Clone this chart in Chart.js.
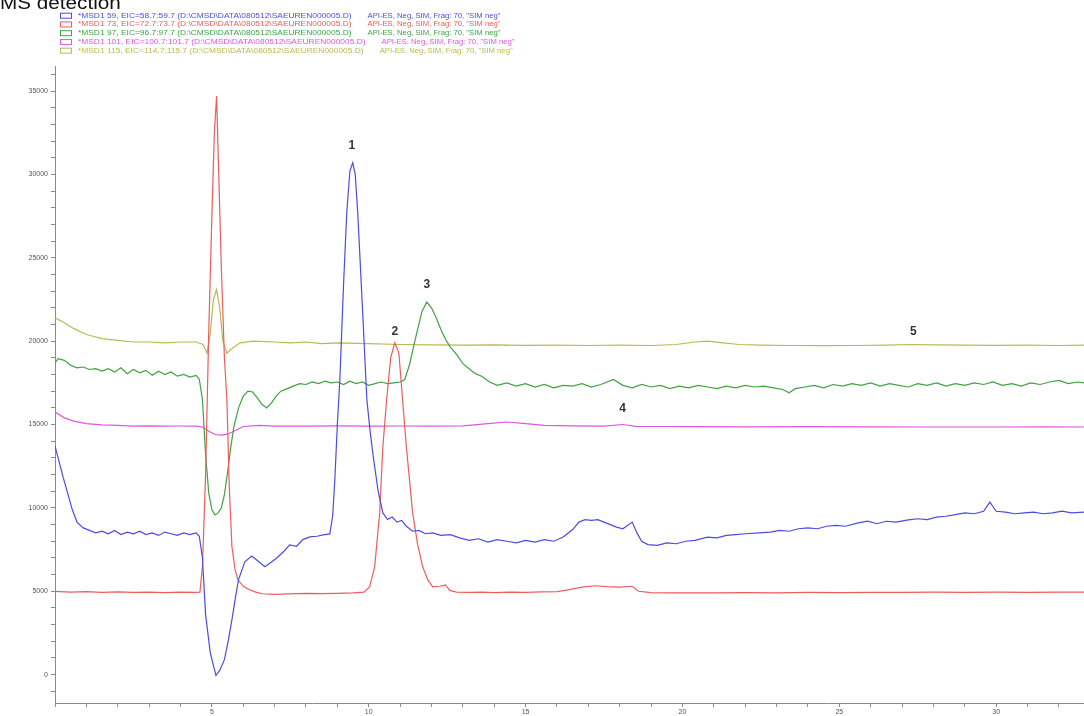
<!DOCTYPE html>
<html>
<head>
<meta charset="utf-8">
<title>MS detection</title>
<script src="https://cdn.jsdelivr.net/npm/chart.js@4.4.1/dist/chart.umd.min.js"></script>
<style>
  html, body { margin: 0; padding: 0; background: #fff; }
  #wrap { width: 1084px; height: 716px; position: relative; }
</style>
</head>
<body>
<div id="wrap"><canvas id="msChart"></canvas></div>
<script>
// retention time (min) and intensity for each extracted ion trace
const chartTitle = "MS detection";

const legendNames = [
    "*MSD1 59, EIC=58.7:59.7 (D:\\CMSD\\DATA\\080512\\SAEUREN000005.D)",
    "*MSD1 73, EIC=72.7:73.7 (D:\\CMSD\\DATA\\080512\\SAEUREN000005.D)",
    "*MSD1 97, EIC=96.7:97.7 (D:\\CMSD\\DATA\\080512\\SAEUREN000005.D)",
    "*MSD1 101, EIC=100.7:101.7 (D:\\CMSD\\DATA\\080512\\SAEUREN000005.D)",
    "*MSD1 115, EIC=114.7:115.7 (D:\\CMSD\\DATA\\080512\\SAEUREN000005.D)"
];
const legendMode = 'API-ES, Neg, SIM, Frag: 70, "SIM neg"';

const t59 = [
    0, 0.1, 0.25, 0.4, 0.55, 0.7, 0.9, 1.1, 1.3, 1.5,
    1.7, 1.9, 2.1, 2.3, 2.5, 2.7, 2.9, 3.1, 3.3, 3.5,
    3.7, 3.9, 4.1, 4.3, 4.5, 4.6, 4.7, 4.8, 4.95, 5.13,
    5.25, 5.4, 5.52, 5.64, 5.75, 5.85, 6.05, 6.27, 6.45, 6.69,
    6.9, 7.07, 7.3, 7.48, 7.7, 7.9, 8.12, 8.35, 8.55, 8.76,
    8.85, 8.92, 9.0, 9.08, 9.2, 9.3, 9.4, 9.49, 9.57, 9.65,
    9.8, 9.94, 10.05, 10.15, 10.3, 10.45, 10.6, 10.75, 10.9, 11.05,
    11.2, 11.4, 11.6, 11.8, 12.04, 12.3, 12.6, 12.9, 13.2, 13.5,
    13.8, 14.1, 14.4, 14.7, 15.0, 15.3, 15.6, 15.9, 16.2, 16.5,
    16.7, 16.9, 17.1, 17.3, 17.5, 17.7, 17.9, 18.1, 18.4, 18.55,
    18.7, 18.9, 19.2, 19.5, 19.8, 20.1, 20.4, 20.8, 21.1, 21.4,
    21.7, 22.0, 22.45, 22.8, 23.1, 23.4, 23.7, 24.0, 24.3, 24.6,
    24.9, 25.2, 25.6, 25.9, 26.2, 26.5, 26.8, 27.2, 27.5, 27.8,
    28.1, 28.4, 28.7, 29.0, 29.3, 29.6, 29.8, 30.0, 30.3, 30.6,
    30.9, 31.2, 31.5, 31.8, 32.1, 32.4, 32.8
];
const v59 = [
    13700, 13000, 11900, 10900, 9900, 9150, 8800, 8650, 8500, 8600,
    8450, 8650, 8400, 8550, 8450, 8600, 8400, 8500, 8350, 8550,
    8450, 8350, 8500, 8400, 8500, 8300, 7000, 3600, 1300, -50,
    250, 900, 2000, 3300, 4600, 5700, 6770, 7120, 6850, 6470,
    6750, 7000, 7400, 7780, 7700, 8100, 8260, 8300, 8380, 8440,
    9500, 11700, 15000, 17700, 23500, 27700, 30200, 30700, 30000, 27700,
    22000, 16500, 14500, 13000, 11000, 9700, 9300, 9450, 9150, 9250,
    8900, 8600, 8650, 8450, 8500, 8350, 8400, 8200, 8050, 8150,
    7950, 8100, 8000, 7900, 8050, 7950, 8100, 8000, 8250, 8700,
    9150, 9300, 9250, 9300, 9150, 9000, 8850, 8750, 9150, 8500,
    8000, 7800, 7750, 7900, 7850, 8000, 8050, 8250, 8200, 8350,
    8400, 8450, 8500, 8550, 8650, 8600, 8750, 8800, 8750, 8900,
    8950, 8900, 9100, 9200, 9050, 9200, 9150, 9280, 9350, 9300,
    9450, 9500, 9600, 9700, 9650, 9800, 10350, 9800, 9750, 9650,
    9700, 9750, 9650, 9700, 9800, 9700, 9750
];

const t73 = [
    0, 0.5, 1, 1.5, 2, 2.5, 3, 3.5, 4, 4.5,
    4.62, 4.7, 4.8, 4.9, 5.0, 5.08, 5.15, 5.22, 5.3, 5.4,
    5.48, 5.56, 5.64, 5.74, 5.83, 6.0, 6.2, 6.4, 6.6, 7.0,
    7.5, 8.0, 8.5, 9.0, 9.5, 9.85, 10.03, 10.19, 10.35, 10.45,
    10.57, 10.7, 10.83, 10.96, 11.08, 11.2, 11.4, 11.56, 11.72, 11.88,
    12.04, 12.25, 12.45, 12.58, 12.8, 13.2, 13.6, 14.0, 14.5, 15.0,
    15.5, 16.0, 16.4, 16.8, 17.2, 17.6, 18.0, 18.4, 18.6, 19.0,
    19.5, 20.0, 21.0, 22.0, 23.0, 24.0, 25.0, 26.0, 27.0, 28.0,
    29.0, 30.0, 31.0, 32.0, 32.8
];
const v73 = [
    5000, 4950, 4980, 4940, 4960, 4930, 4950, 4920, 4950, 4930,
    4950, 6500, 12000, 20500, 27500, 32500, 34700, 30000, 24500, 19000,
    16470, 11000, 7660, 6300, 5690, 5300, 5090, 4950, 4850, 4820,
    4850, 4870, 4860, 4880, 4900, 4950, 5270, 6470, 9700, 13650,
    16470, 19000, 19900, 19300, 16470, 13650, 9700, 7800, 6470, 5700,
    5270, 5300, 5380, 5050, 4950, 4930, 4950, 4920, 4950, 4940,
    4960, 4980, 5100, 5250, 5330, 5280, 5250, 5300, 5000, 4920,
    4900, 4910, 4900, 4920, 4910, 4930, 4920, 4940, 4930, 4950,
    4940, 4950, 4940, 4950, 4950
];

const t97 = [
    0, 0.1, 0.3, 0.5, 0.7, 0.9, 1.1, 1.3, 1.5, 1.7,
    1.9, 2.1, 2.3, 2.5, 2.7, 2.9, 3.1, 3.3, 3.5, 3.7,
    3.9, 4.1, 4.3, 4.5, 4.6, 4.7, 4.8, 4.9, 5.0, 5.1,
    5.2, 5.3, 5.4, 5.5, 5.6, 5.7, 5.85, 6.0, 6.15, 6.3,
    6.45, 6.6, 6.75, 6.9, 7.05, 7.2, 7.4, 7.6, 7.8, 8.0,
    8.2, 8.4, 8.6, 8.8, 9.0, 9.2, 9.4, 9.6, 9.8, 10.0,
    10.2, 10.4, 10.6, 10.8, 11.0, 11.15, 11.3, 11.5, 11.7, 11.85,
    12.0, 12.15, 12.3, 12.45, 12.6, 12.8, 13.0, 13.2, 13.4, 13.6,
    13.85, 14.1, 14.4, 14.7, 15.0, 15.3, 15.6, 15.9, 16.2, 16.5,
    16.8, 17.1, 17.4, 17.8, 18.1, 18.4, 18.7, 19.0, 19.3, 19.6,
    19.9, 20.2, 20.5, 20.8, 21.1, 21.4, 21.7, 22.0, 22.3, 22.6,
    22.9, 23.2, 23.4, 23.6, 23.9, 24.2, 24.5, 24.8, 25.1, 25.4,
    25.7, 26.0, 26.3, 26.6, 26.9, 27.2, 27.5, 27.8, 28.1, 28.4,
    28.7, 29.0, 29.3, 29.6, 29.9, 30.2, 30.5, 30.8, 31.1, 31.4,
    31.7, 32.0, 32.3, 32.6, 32.8
];
const v97 = [
    18700, 18950, 18850, 18550, 18400, 18450, 18300, 18350, 18200, 18350,
    18150, 18400, 18050, 18300, 18100, 18250, 17950, 18200, 18000, 18150,
    17900, 18000, 17850, 17950, 17700, 16500, 13200, 10900, 9900, 9580,
    9700, 10000, 10800, 12100, 13600, 14850, 16000, 16700, 17000, 16950,
    16600, 16200, 15990, 16300, 16700, 17000, 17150, 17300, 17450, 17400,
    17550, 17450, 17600, 17500, 17550, 17400, 17600, 17450, 17550, 17350,
    17450, 17550, 17450, 17500, 17550, 17700, 18600, 20240, 21800, 22340,
    22000, 21400, 20700, 20100, 19640, 19200, 18650, 18350, 18050, 17900,
    17550, 17350, 17500, 17300, 17450, 17250, 17400, 17200, 17350, 17300,
    17450, 17250, 17400, 17700, 17350, 17200, 17400, 17250, 17350, 17150,
    17300, 17200, 17350, 17250, 17150, 17300, 17200, 17350, 17250, 17300,
    17200, 17100, 16900, 17150, 17250, 17350, 17200, 17400, 17300, 17450,
    17350, 17500, 17300, 17450, 17350, 17250, 17450, 17350, 17500, 17300,
    17450, 17350, 17500, 17400, 17550, 17350, 17450, 17300, 17500, 17400,
    17550, 17650, 17450, 17550, 17500
];

const t101 = [
    0, 0.3, 0.6, 1.0, 1.5, 2.0, 2.5, 3.0, 3.5, 4.0,
    4.5, 4.7, 4.9, 5.1, 5.3, 5.5, 5.7, 6.0, 6.5, 7.0,
    8, 9, 10, 11, 12, 13, 13.8, 14.4, 15.0, 15.6,
    16.5, 17.5, 18.1, 18.5, 19.5, 20.5, 22, 24, 26, 28,
    30, 31.5, 32.8
];
const v101 = [
    15750, 15400, 15200, 15050, 14980, 14950, 14900, 14920, 14900, 14910,
    14900, 14850, 14600, 14400, 14370, 14420, 14600, 14880, 14950, 14900,
    14900, 14920, 14900, 14910, 14900, 14920, 15050, 15150, 15050, 14950,
    14920, 14900, 15000, 14890, 14880, 14870, 14860, 14870, 14860, 14850,
    14850, 14860, 14850
];

const t115 = [
    0, 0.3, 0.6, 1.0, 1.5, 2.0, 2.5, 3.0, 3.5, 4.0,
    4.5, 4.72, 4.85, 4.95, 5.05, 5.15, 5.25, 5.35, 5.48, 5.6,
    5.9, 6.3, 7.0, 7.5, 8.0, 8.5, 9.0, 10.0, 11.0, 12.0,
    13, 14, 15, 16, 17, 18, 19, 19.8, 20.4, 20.8,
    21.3, 21.8, 22.5, 23.5, 24.5, 25.5, 26.5, 27.3, 28, 29,
    30, 31, 32, 32.8
];
const v115 = [
    21400, 21100, 20750, 20400, 20150, 20050, 19950, 19950, 19900, 19950,
    19950, 19800, 19280, 20500, 22500, 23100, 22000, 20000, 19280, 19500,
    19900, 20000, 19950, 19900, 19950, 19850, 19900, 19850, 19800, 19780,
    19760, 19780, 19750, 19760, 19740, 19760, 19740, 19800, 19950, 20000,
    19900, 19800, 19760, 19740, 19730, 19740, 19760, 19800, 19780, 19760,
    19750, 19760, 19740, 19760
];

// axis ticks: minor every 1 min / 1000 counts, labelled every 5 / 5000
const xTickValues = [0, 1, 2, 3, 4, 5, 6, 7, 8, 9, 10, 11, 12, 13, 14, 15, 16,
    17, 18, 19, 20, 21, 22, 23, 24, 25, 26, 27, 28, 29, 30, 31, 32];
const xTickLabels = ["5", "10", "15", "20", "25", "30"];
const yTickValues = [-1000, 0, 1000, 2000, 3000, 4000, 5000, 6000, 7000, 8000,
    9000, 10000, 11000, 12000, 13000, 14000, 15000, 16000, 17000, 18000, 19000,
    20000, 21000, 22000, 23000, 24000, 25000, 26000, 27000, 28000, 29000, 30000,
    31000, 32000, 33000, 34000, 35000, 36000];
const yTickLabels = ["0", "5000", "10000", "15000", "20000", "25000", "30000", "35000"];

// peak numbers written on the chromatogram
const peakLabels = ["1", "2", "3", "4", "5"];
const peakTimes = [9.46, 10.83, 11.85, 18.09, 27.36];
const peakHeights = [31700, 20550, 23400, 15950, 20550];

const seriesColors = ["#4c4ce4", "#ee5c5c", "#44a044", "#e056e0", "#b9b955"];

const toPoints = (ts, vs) => ts.map((t, i) => ({ x: t, y: vs[i] }));

const traces = [
    toPoints(t59, v59),
    toPoints(t73, v73),
    toPoints(t97, v97),
    toPoints(t101, v101),
    toPoints(t115, v115)
];

const decorPlugin = {
    id: 'decor',
    afterDraw(chart) {
        const ctx = chart.ctx;
        ctx.save();

        // title
        ctx.fillStyle = "#111";
        ctx.font = '18px "Liberation Sans", Arial, sans-serif';
        ctx.textBaseline = "alphabetic";
        ctx.textAlign = "left";
        ctx.save();
        ctx.translate(0, 9);
        ctx.scale(1.15, 1);
        ctx.fillText(chartTitle, 0, 0);
        ctx.restore();

        // legend, one row per trace
        ctx.font = '7px "Liberation Sans", Arial, sans-serif';
        ctx.textBaseline = "middle";
        chart.data.datasets.forEach((ds, i) => {
            const y = 15.7 + i * 8.75;
            ctx.strokeStyle = ds.borderColor;
            ctx.lineWidth = 1;
            ctx.strokeRect(60.5, y - 2.5, 11, 5);
            ctx.fillStyle = ds.borderColor;
            const w = ctx.measureText(legendNames[i]).width * 1.2;
            ctx.save();
            ctx.translate(78, y);
            ctx.scale(1.2, 1);
            ctx.fillText(legendNames[i], 0, 0);
            ctx.restore();
            ctx.save();
            ctx.translate(78 + w + 16, y);
            ctx.scale(1.1, 1);
            ctx.fillText(legendMode, 0, 0);
            ctx.restore();
        });

        // peak numbers
        const xs = chart.scales.x;
        const ys = chart.scales.y;
        ctx.fillStyle = "#333";
        ctx.font = 'bold 12px "Liberation Sans", Arial, sans-serif';
        ctx.textAlign = "center";
        peakLabels.forEach((lab, i) => {
            ctx.fillText(lab, xs.getPixelForValue(peakTimes[i]), ys.getPixelForValue(peakHeights[i]));
        });
        ctx.restore();
    }
};

const tickFont = { size: 7, family: '"Liberation Sans", Arial, sans-serif' };

const ctx = document.getElementById('msChart');

new Chart(ctx, {
    type: 'line',
    data: {
        datasets: traces.map((pts, i) => ({
            label: legendNames[i],
            data: pts,
            borderColor: seriesColors[i],
            backgroundColor: seriesColors[i],
            borderWidth: 1.2,
            pointRadius: 0,
            tension: 0,
            fill: false
        }))
    },
    options: {
        responsive: true,
        maintainAspectRatio: false,
        animation: false,
        layout: { padding: { top: 66, left: 0, right: 0, bottom: 0 } },
        plugins: {
            legend: { display: false },
            title: { display: false },
            tooltip: { enabled: false }
        },
        scales: {
            x: {
                type: 'linear',
                min: 0,
                max: 32.8,
                afterBuildTicks: (scale) => {
                    scale.ticks = xTickValues.map(v => ({ value: v }));
                },
                afterFit: (scale) => { scale.height = 13; },
                border: { color: '#8a8a8a', width: 1 },
                grid: { drawOnChartArea: false, drawTicks: true, tickLength: 4, color: '#8a8a8a' },
                ticks: {
                    autoSkip: false,
                    maxRotation: 0,
                    padding: 1,
                    color: '#555',
                    font: tickFont,
                    callback: (v) => xTickLabels.includes(String(v)) ? String(v) : ''
                }
            },
            y: {
                type: 'linear',
                min: -1700,
                max: 36500,
                afterBuildTicks: (scale) => {
                    scale.ticks = yTickValues.map(v => ({ value: v }));
                },
                afterFit: (scale) => { scale.width = 55; },
                border: { color: '#8a8a8a', width: 1 },
                grid: { drawOnChartArea: false, drawTicks: true, tickLength: 4, color: '#8a8a8a' },
                ticks: {
                    autoSkip: false,
                    padding: 3,
                    color: '#555',
                    font: tickFont,
                    callback: (v) => yTickLabels.includes(String(v)) ? String(v) : ''
                }
            }
        }
    },
    plugins: [decorPlugin]
});
</script>
</body>
</html>
